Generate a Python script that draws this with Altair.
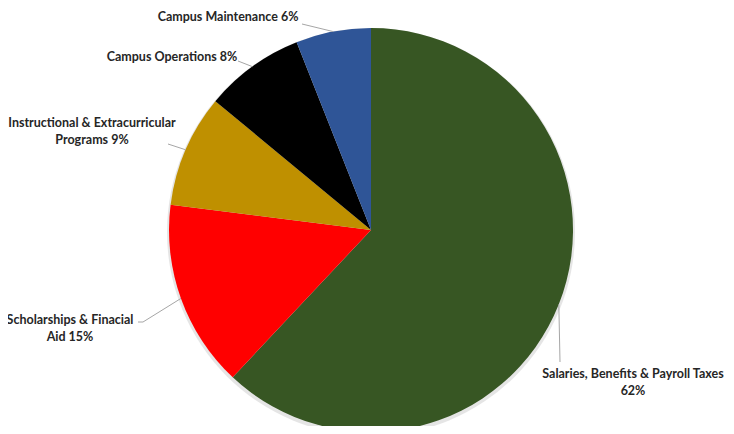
import altair as alt
import pandas as pd
import numpy as np

categories = ["Salaries, Benefits & Payroll Taxes", "Scholarships & Finacial Aid",
              "Instructional & Extracurricular Programs", "Campus Operations", "Campus Maintenance"]
values = [62, 15, 9, 8, 6]
colors = ["#375623", "#FF0000", "#BF9000", "#000000", "#2F5597"]
label_texts = [["Salaries, Benefits & Payroll Taxes", "62%"],
               ["Scholarships & Finacial", "Aid 15%"],
               ["Instructional & Extracurricular", "Programs 9%"],
               ["Campus Operations 8%"],
               ["Campus Maintenance 6%"]]

# layout (image pixel coords)
W, H = 718, 418
M = 8
CX, CY, R = 371, 230, 202
label_pos = [(633, 374), (70, 320), (92, 123), (172, 57), (228, 17)]
leader_ends = [[(560, 362)], [(143, 322), (138, 322)], [(168, 144)], [(238, 61)], [(302, 24)]]

pie_df = pd.DataFrame({"cat": categories, "value": values, "order": range(len(values))})

# leader lines from slice mid-angle on the rim
tot = sum(values)
cum = np.cumsum([0] + values)
rows = []
for i in range(len(values)):
    mid = (cum[i] + values[i] / 2) / tot * 2 * np.pi
    sx = CX + R * np.sin(mid)
    sy = CY - R * np.cos(mid)
    pts = [(sx, sy)] + leader_ends[i]
    for k, (px, py) in enumerate(pts):
        rows.append({"id": i, "k": k, "x": px - M, "y": py - M})
lead_df = pd.DataFrame(rows)

lab_df = pd.DataFrame({"text": label_texts,
                       "x": [p[0] - M for p in label_pos],
                       "y": [p[1] - M for p in label_pos]})

xs = alt.Scale(domain=[0, W], range=[0, W])
ys = alt.Scale(domain=[0, H], range=[0, H])

shadow = alt.Chart(pd.DataFrame({"v": [1]})).mark_arc(
    radius=R + 2, color="#aaaaaa", opacity=0.3
).encode(theta=alt.Theta("v:Q"), x=alt.value(CX - M), y=alt.value(CY - M + 2))

pie = alt.Chart(pie_df).mark_arc(radius=R).encode(
    theta=alt.Theta("value:Q", stack=True),
    order=alt.Order("order:Q"),
    color=alt.Color("cat:N", scale=alt.Scale(domain=categories, range=colors), legend=None),
    x=alt.value(CX - M), y=alt.value(CY - M),
)

leaders = alt.Chart(lead_df).mark_line(color="#A6A6A6", strokeWidth=1).encode(
    x=alt.X("x:Q", scale=xs, axis=None),
    y=alt.Y("y:Q", scale=ys, axis=None),
    detail="id:N",
    order="k:Q",
)

labels = alt.Chart(lab_df).mark_text(
    font="Lato", fontWeight="bold", fontSize=12.5, color="#262626",
    align="center", baseline="middle", lineHeight=16.5
).encode(
    x=alt.X("x:Q", scale=xs, axis=None),
    y=alt.Y("y:Q", scale=ys, axis=None),
    text="text",
)

chart = alt.layer(shadow, pie, leaders, labels).resolve_scale(theta="independent").properties(
    width=W, height=H, padding=0, autosize=alt.AutoSizeParams(type="none")
).configure_view(stroke=None)

chart.save("out.html", embed_options={"renderer": "svg", "actions": False})
